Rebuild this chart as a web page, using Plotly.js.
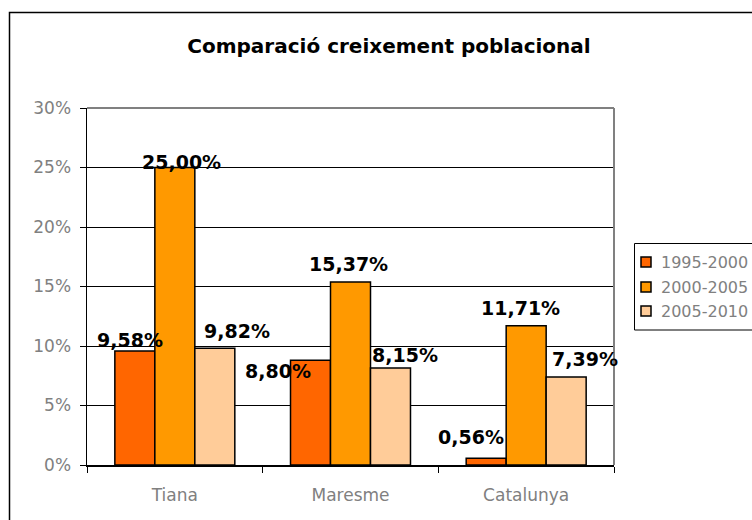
<!DOCTYPE html>
<html>
<head>
<meta charset="utf-8">
<script src="https://cdn.plot.ly/plotly-3.0.1.min.js"></script>
<style>
html,body{margin:0;padding:0;background:#fff;overflow:hidden;}
#chart{width:752px;height:520px;}
</style>
</head>
<body>
<div id="chart"></div>
<script>
// ---- data ----
var categories = ["Tiana", "Maresme", "Catalunya"];
var seriesNames = ["1995-2000", "2000-2005", "2005-2010"];
var values1995 = [9.58, 8.80, 0.56];
var values2000 = [25.00, 15.37, 11.71];
var values2005 = [9.82, 8.15, 7.39];
var yTicks = [0, 5, 10, 15, 20, 25, 30];
var chartTitle = "Comparació creixement poblacional";

// ---- styling ----
var colors = ["#FF6600", "#FF9900", "#FFCC99"];
var seriesValues = [values1995, values2000, values2005];
var W = 752, H = 520;
var mL = 87, mR = W - 614, mT = 108, mB = H - 465;
var plotW = W - mL - mR, plotH = H - mT - mB;
var barPx = 40;
// label offsets (pixels) relative to bar centre / bar top, per series per category
var labelDx = [[-5, -33, -15], [7, -2, -6], [22, 14, 19]];
var labelDy = [[11, -11, 21], [6, 18, 18], [17, 13, 18]];

function fmt(v) { return v.toFixed(2).replace(".", ",") + "%"; }

var traces = seriesNames.map(function (name, s) {
  return {
    type: "bar",
    name: name,
    x: categories,
    y: seriesValues[s],
    marker: { color: colors[s], line: { color: "#000", width: 1.5 } },
    hoverinfo: "skip",
    showlegend: false
  };
});

function px2x(px) { return (px - mL) / plotW; }
function py2y(py) { return (H - mB - py) / plotH; }

var annotations = [];
seriesValues.forEach(function (vals, s) {
  vals.forEach(function (v, c) {
    annotations.push({
      x: categories[c], y: v, xref: "x", yref: "y",
      text: fmt(v), showarrow: false,
      xanchor: "center", yanchor: "middle",
      xshift: (s - 1) * barPx + labelDx[s][c],
      yshift: labelDy[s][c],
      font: { family: "DejaVu Sans", size: 19, color: "#000", weight: "bold" }
    });
  });
});

var shapes = [
  // outer chart frame
  { type: "rect", xref: "paper", yref: "paper",
    x0: px2x(9.5), x1: px2x(800), y0: py2y(600), y1: py2y(12.5),
    line: { color: "#000", width: 1.5 }, fillcolor: "rgba(0,0,0,0)", layer: "below" },
  // plot area top/right border (grey)
  { type: "line", xref: "paper", yref: "paper", x0: 0, x1: 1, y0: 1, y1: 1,
    line: { color: "#808080", width: 2 } },
  { type: "line", xref: "paper", yref: "paper", x0: 1, x1: 1, y0: 0, y1: 1,
    line: { color: "#808080", width: 2 } },
  // legend box
  { type: "rect", xref: "paper", yref: "paper",
    x0: px2x(634.5), x1: px2x(800), y0: py2y(330), y1: py2y(243.5),
    line: { color: "#000", width: 1 }, fillcolor: "#fff" }
];

// legend entries (manual, to match the reference's compact layout)
var legendRowsY = [262, 287, 311];
seriesNames.forEach(function (name, s) {
  var cy = legendRowsY[s];
  shapes.push({ type: "rect", xref: "paper", yref: "paper",
    x0: px2x(641), x1: px2x(651), y0: py2y(cy + 5), y1: py2y(cy - 5),
    line: { color: "#000", width: 1.5 }, fillcolor: colors[s] });
  annotations.push({ xref: "paper", yref: "paper", x: px2x(659), y: py2y(cy),
    xanchor: "left", yanchor: "middle", showarrow: false, text: name,
    font: { family: "DejaVu Sans", size: 16, color: "#808080" } });
});

var layout = {
  width: W, height: H,
  margin: { l: mL, r: mR, t: mT, b: mB, autoexpand: false },
  paper_bgcolor: "#fff", plot_bgcolor: "#fff",
  title: {
    text: "<b>" + chartTitle + "</b>",
    xref: "container", yref: "container",
    x: 389 / W, xanchor: "center",
    y: 1 - 46 / H, yanchor: "middle",
    font: { family: "DejaVu Sans", size: 20, color: "#000" }
  },
  barmode: "group",
  bargap: 0.317,
  bargroupgap: 0,
  showlegend: false,
  xaxis: {
    type: "category",
    range: [-0.5, 2.5],
    showline: true, linecolor: "#000", linewidth: 1.5,
    ticks: "outside", tickson: "boundaries", ticklen: 6, tickcolor: "#000", tickwidth: 1,
    tickfont: { family: "DejaVu Sans", size: 17, color: "#808080" },
    ticklabelstandoff: 14,
    showgrid: false, zeroline: false, fixedrange: true
  },
  yaxis: {
    range: [0, 30],
    tickvals: yTicks,
    ticktext: yTicks.map(function (t) { return t + "%"; }),
    showline: true, linecolor: "#000", linewidth: 1.5,
    ticks: "outside", ticklen: 6, tickcolor: "#000", tickwidth: 1,
    tickfont: { family: "DejaVu Sans", size: 17, color: "#808080" },
    ticklabelstandoff: 5,
    showgrid: true, gridcolor: "#000", gridwidth: 1,
    zeroline: false, fixedrange: true
  },
  annotations: annotations,
  shapes: shapes
};

Plotly.newPlot("chart", traces, layout, { displayModeBar: false, staticPlot: true });
</script>
</body>
</html>
